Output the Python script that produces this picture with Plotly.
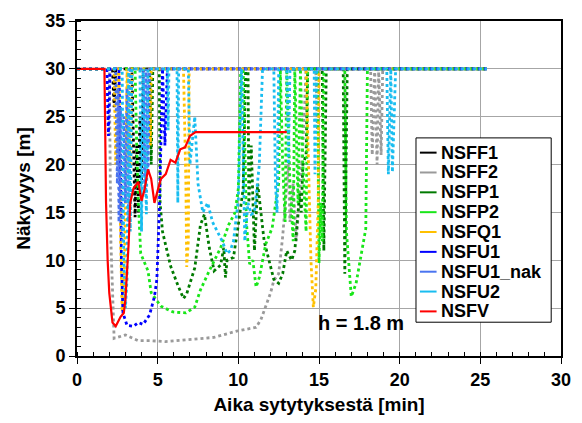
import plotly.graph_objects as go

# ---------------- data ----------------
names = ["NSFF1", "NSFF2", "NSFP1", "NSFP2", "NSFQ1", "NSFU1", "NSFU1_nak", "NSFU2", "NSFV"]
colors = ["#000000", "#9a9a9a", "#007a00", "#19e619", "#ffc000", "#0000ff", "#4a74f0", "#19bdf0", "#ff0000"]

nsff1_x = [0, 2.2, 2.3, 2.4, 3.4, 3.5, 3.6, 3.7, 3.8, 3.9, 4.0, 4.1, 25.4]
nsff1_y = [30, 30, 26, 30, 30, 20, 14.5, 22, 15, 25, 18, 30, 30]

nsff2_x = [0, 2.0, 2.1, 2.3, 2.6, 3.0, 3.8, 4.6, 5.5, 7.0, 8.5, 9.9, 11.1, 11.4, 11.7, 12.0, 12.2, 12.5,
           12.75, 12.9, 13.1, 13.2, 13.4, 13.6, 13.8, 14.0, 14.2, 14.8, 14.9, 15.0, 18.2, 18.3, 18.45,
           18.6, 18.7, 18.85, 18.95, 25.4]
nsff2_y = [30, 30, 12, 1.85, 2.0, 2.2, 1.6, 1.6, 1.5, 1.7, 1.95, 2.6, 3.0, 3.8, 5.3, 6.6, 7.9, 8.6,
           12.5, 16, 20, 14, 18, 12, 17, 22, 30, 30, 23.6, 30, 30, 21, 30, 20, 30, 21, 30, 30]

nsfp1_x = [0, 4.5, 4.6, 4.7, 5.1, 5.15, 5.3, 5.8, 6.25, 6.6, 6.8, 7.05, 7.3, 7.65, 7.9, 8.2, 8.5, 8.7,
           8.9, 9.1, 9.2, 9.3, 9.7, 10.0, 10.3, 10.45, 10.6, 10.65, 10.8, 11.0, 11.2, 11.6, 11.9, 12.2,
           12.5, 12.75, 13.0, 13.3, 13.5, 13.7, 13.8, 13.9, 14.0, 14.2, 14.3, 15.2, 15.3, 15.45, 16.5,
           16.6, 16.75, 25.4]
nsfp1_y = [30, 30, 20, 30, 30, 16, 13, 9.4, 7.4, 6.0, 6.5, 7.9, 9.2, 13.7, 14.8, 11.3, 8.9, 9.2,
           9.5, 11.3, 8.2, 10, 10.3, 13.7, 17.5, 30, 30, 16, 22, 11, 18, 12, 10, 8, 7.6, 8.6, 11, 10,
           11, 14.8, 17, 15, 20, 21, 30, 30, 11, 30, 30, 8.6, 30, 30]

nsfp2_x = [0, 3.6, 3.7, 3.8, 3.95, 4.4, 4.6, 5.2, 5.95, 6.75, 7.3, 7.65, 8.2, 8.5, 8.9, 9.4, 9.8, 10.0,
           10.15, 10.3, 10.5, 10.7, 10.9, 11.1, 11.3, 11.7, 12.1, 12.3, 12.5, 12.6, 12.75, 12.9, 13.0,
           13.2, 13.4, 13.5, 13.7, 13.85, 14.0, 14.2, 14.3, 14.9, 15.0, 15.1, 15.2, 15.3, 16.6, 16.7,
           17.0, 17.3, 17.7, 17.9, 18.0, 25.4]
nsfp2_y = [30, 30, 22, 16, 10.7, 8.9, 6.6, 5.2, 4.6, 4.5, 5.1, 6.9, 8.9, 10, 11.3, 13.7, 15, 17.5,
           30, 30, 14, 9.6, 10, 7.2, 8.2, 11.7, 13.4, 15.8, 18, 30, 20, 14, 30, 18, 12, 30, 16, 30, 20,
           13, 30, 30, 9.7, 16, 12, 30, 30, 13, 6.2, 7.6, 11.3, 13.3, 30, 30]

nsfq1_x = [0, 2.3, 2.4, 2.5, 2.6, 2.7, 2.8, 2.9, 3.0, 3.1, 3.3, 3.4, 4.5, 4.55, 4.6, 6.6, 6.75, 6.8,
           6.9, 6.95, 14.2, 14.35, 14.5, 14.65, 14.8, 14.95, 15.0, 25.4]
nsfq1_y = [30, 30, 20, 30, 30, 12, 4.6, 6, 15, 30, 20, 30, 30, 22, 30, 30, 18, 9.3, 12, 30, 30, 20,
           10, 5.1, 7, 16, 30, 30]

nsfu1_x = [0, 1.85, 1.95, 2.05, 2.6, 2.7, 2.75, 2.85, 3.1, 3.5, 3.8, 4.1, 4.5, 4.8, 4.95, 5.0, 5.1,
           5.2, 5.3, 5.45, 5.6, 25.4]
nsfu1_y = [30, 30, 23, 30, 30, 20, 10, 4.5, 3.2, 3.1, 3.5, 3.3, 4.3, 6.2, 8, 10, 15, 22, 30, 22, 30, 30]

nsfu1n_x = [0, 2.4, 2.5, 2.55, 2.6, 2.7, 2.8, 2.9, 3.0, 3.1, 3.2, 3.3, 4.1, 4.2, 4.3, 4.4, 4.5, 25.4]
nsfu1n_y = [30, 30, 18, 28, 14, 26, 12, 25, 16, 28, 14, 30, 30, 17, 30, 19, 30, 30]

nsfu2_x = [0, 2.8, 2.9, 3.0, 3.1, 3.2, 3.3, 3.4, 3.9, 4.0, 4.1, 4.3, 4.4, 5.6, 5.65, 5.7, 6.2, 6.25,
           6.3, 6.9, 7.0, 7.3, 7.5, 7.8, 8.1, 8.4, 8.7, 9.0, 9.3, 9.5, 9.7, 10.0, 10.2, 10.4, 10.6,
           10.8, 11.0, 11.3, 11.5, 12.2, 12.3, 12.4, 12.5, 13.0, 13.1, 13.2, 14.7, 14.75, 14.85,
           19.2, 19.3, 19.45, 19.55, 19.65, 19.75, 25.4]
nsfu2_y = [30, 30, 10, 5.0, 8, 30, 13, 30, 30, 13, 30, 14.8, 30, 30, 23.6, 30, 30, 16, 30, 30, 20,
           25, 18, 15, 16, 14, 13, 12, 10.7, 11, 12, 16.4, 30, 12, 16, 14.8, 15, 20, 30, 30, 18, 15,
           30, 30, 20, 30, 30, 19, 30, 30, 19, 30, 19.2, 25, 30, 30]

nsfv_x = [0, 1.7, 1.75, 1.8, 1.9, 2.0, 2.2, 2.4, 2.7, 2.9, 3.0, 3.2, 3.3, 3.5, 3.8, 4.0, 4.2, 4.4,
          4.6, 4.8, 5.0, 5.2, 5.5, 5.8, 6.1, 6.4, 6.7, 7.0, 7.35, 13.0]
nsfv_y = [30, 30, 23.3, 16, 10, 6.6, 3.5, 3.1, 4.1, 4.5, 5.9, 11.7, 16, 17.5, 18.2, 16.2, 17.5, 19.5,
          18.5, 16, 17.3, 18.5, 19, 20.5, 20.2, 21.6, 21.8, 23, 23.4, 23.4]

series_x = [nsff1_x, nsff2_x, nsfp1_x, nsfp2_x, nsfq1_x, nsfu1_x, nsfu1n_x, nsfu2_x, nsfv_x]
series_y = [nsff1_y, nsff2_y, nsfp1_y, nsfp2_y, nsfq1_y, nsfu1_y, nsfu1n_y, nsfu2_y, nsfv_y]

annotation_text = "h = 1.8 m"
x_title = "Aika sytytyksestä [min]"
y_title = "Näkyvyys [m]"

# ---------------- figure ----------------
FONT = "Arial, Liberation Sans, sans-serif"
def bold_font(size):
    return dict(family=FONT, size=size, color="black", weight="bold")

fig = go.Figure()
for name, col, xs, ys in zip(names, colors, series_x, series_y):
    solid = name == "NSFV"
    fig.add_trace(go.Scatter(
        x=xs, y=ys, mode="lines", name=name, showlegend=False,
        line=dict(color=col, width=2.2 if solid else 2.8, dash="solid" if solid else "3px,3px"),
    ))

# custom legend (box, line samples, text)
W, H = 582, 423
ml, mr, mt, mb = 77, 11, 16, 66
pw, ph = W - ml - mr, H - mt - mb
def px2x(p): return (p - ml) / pw
def py2y(p): return (H - mb - p) / ph

row0, rowstep = 150, 20.2
shapes = [dict(type="rect", xref="paper", yref="paper",
               x0=px2x(423), x1=px2x(561), y0=py2y(row0 + 8 * rowstep + 11), y1=py2y(135),
               line=dict(color="black", width=1), fillcolor="white", layer="above")]
annotations = []
for i, (name, col) in enumerate(zip(names, colors)):
    yc = row0 + i * rowstep
    shapes.append(dict(type="line", xref="paper", yref="paper",
                       x0=px2x(427), x1=px2x(444), y0=py2y(yc), y1=py2y(yc),
                       line=dict(color=col, width=2), layer="above"))
    annotations.append(dict(xref="paper", yref="paper", x=px2x(446), y=py2y(yc),
                            xanchor="left", yanchor="middle", showarrow=False,
                            text=name, font=bold_font(18)))

annotations.append(dict(x=17.6, y=3.5, xref="x", yref="y", showarrow=False,
                        text=annotation_text, font=bold_font(20)))

axis_common = dict(
    showgrid=True, gridcolor="#a6a6a6", gridwidth=1,
    showline=True, linecolor="black", linewidth=2, mirror=True,
    ticks="outside", ticklen=6, tickwidth=1, tickcolor="black",
    tickfont=bold_font(18),
    zeroline=False, dtick=5, tick0=0,
    minor=dict(dtick=1, ticks="inside", ticklen=4, tickcolor="black", showgrid=False),
)

fig.update_layout(
    width=W, height=H,
    margin=dict(l=ml, r=mr, t=mt, b=mb),
    paper_bgcolor="white", plot_bgcolor="white",
    showlegend=False,
    xaxis=dict(range=[0, 30], title=dict(text=x_title, standoff=9, font=bold_font(19)), **axis_common),
    yaxis=dict(range=[0, 35], title=dict(text=y_title, standoff=10, font=bold_font(19)), **axis_common),
    shapes=shapes,
    annotations=annotations,
)

fig.write_html("out.html")
